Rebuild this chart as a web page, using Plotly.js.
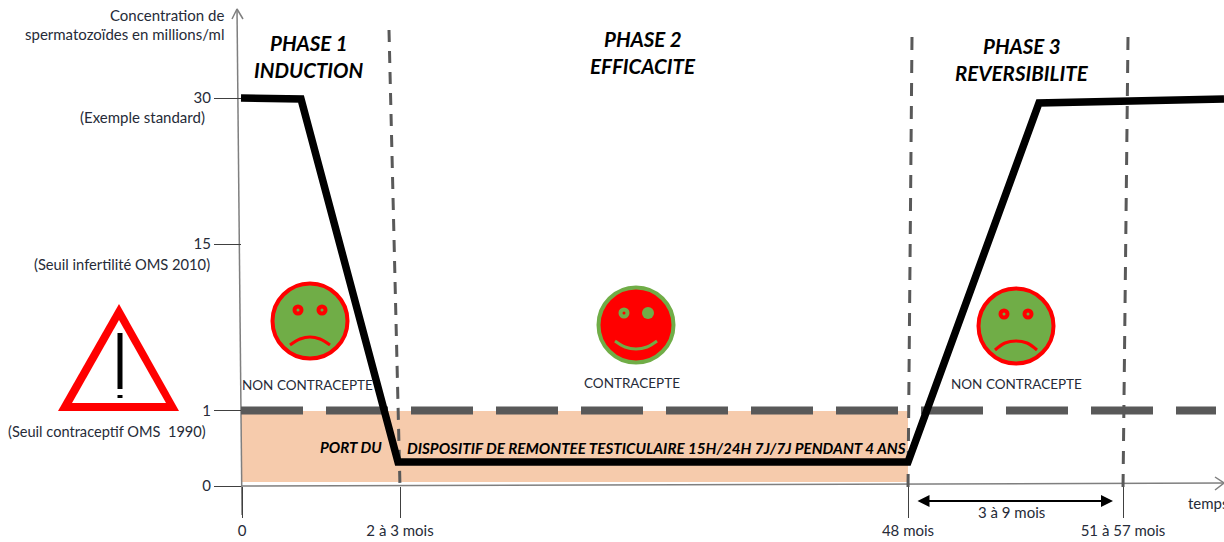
<!DOCTYPE html>
<html>
<head>
<meta charset="utf-8">
<script src="https://cdn.plot.ly/plotly-3.0.1.min.js"></script>
<style>html,body{margin:0;padding:0;background:#fff;overflow:hidden}</style>
</head>
<body>
<div id="chart" style="width:1224px;height:542px"></div>
<script>
// Schematic axes: the source drawing is not to scale, so values are schematic units from the origin.
var xTickVals = [1, 159, 667, 882];
var xTickText = ['0', '2 à 3 mois', '48 mois', '51 à 57 mois'];
var yTickVals = [0, 75.5, 242, 388];
var yTickText = ['0', '1', '15', '30'];

var curveX = [0, 60, 157, 667, 798, 983];
var curveY = [388, 387, 24, 24, 383, 387];

var thresholdX = [0, 975];
var thresholdY = [75.5, 75.5];

var bandX = [0, 667, 667, 0, 0];
var bandY = [75, 75, 4, 4, 75];

var phase1X = [148, 159], phase1Y = [456, -1];
var phase2X = [671, 667], phase2Y = [449, -4];
var phase3X = [887, 882], phase3Y = [449, -4];

var yAxisX = [-4, 1], yAxisY = [477, -29];
var yHeadX = [-9, -4, 2], yHeadY = [467, 477, 467];
var xAxisX = [0, 983], xAxisY = [0, 3];
var xHeadX = [974, 983, 974], xHeadY = [9, 3, -4];

var warnOuterX = [-122, -183, -62, -122], warnOuterY = [182, 75, 75, 182];
var warnInnerX = [-122, -169, -75, -122], warnInnerY = [166, 83, 83, 166];
var warnBarX = [-121, -121], warnBarY = [153, 97];
var warnDotX = [-121, -121], warnDotY = [91, 88];

var sadFaceX = [69, 775], sadFaceY = [165, 160];
var happyFaceX = [395], happyFaceY = [161];
var sadEyeX = [57, 81, 763, 787], sadEyeY = [176, 176, 172, 172];
var happyRingX = [383], happyRingY = [173];
var happySolidX = [407], happySolidY = [173];
var mouth1X = [49, 59, 69, 79, 89], mouth1Y = [141, 147, 149, 147, 141];
var mouth2X = [374, 384, 395, 406, 416], mouth2Y = [145, 139, 137, 139, 145];
var mouth3X = [754, 764, 775, 786, 796], mouth3Y = [136, 143, 145, 143, 136];

var spanX = [675, 872], spanY = [-15, -15];

var noteText = ['Concentration de', 'spermatozoïdes en millions/ml', '(Exemple standard)',
  '(Seuil infertilité OMS 2010)', '(Seuil contraceptif OMS\u00a0 1990)',
  'NON CONTRACEPTE', 'CONTRACEPTE', 'NON CONTRACEPTE', 'temps', '3 à 9 mois'];
var noteX = [-16, -16, -35, -30, -34, 66, 391, 775, 946, 770];
var noteY = [471, 452, 369, 222, 55, 101, 103, 102, -17, -26];
var noteAnchor = ['right', 'right', 'right', 'right', 'right', 'center', 'center', 'center', 'left', 'center'];
var noteSize = [15, 15, 15, 14.7, 14.6, 13.5, 13.5, 13.5, 15, 15];

var titleText = ['PHASE 1', 'INDUCTION', 'PHASE 2', 'EFFICACITE', 'PHASE 3', 'REVERSIBILITE'];
var titleX = [68, 68, 402, 402, 781, 781];
var titleY = [443, 416, 447, 420, 440, 413];

var bandText = ['PORT DU', 'DISPOSITIF DE REMONTEE TESTICULAIRE 15H/24H 7J/7J PENDANT 4 ANS'];
var bandTextX = [110, 415];
var bandTextY = [39, 38];

var GREEN = '#70AD47', RED = '#FF0000', GREY = '#595959', AXIS = '#7F7F7F', INK = '#262b38';
var FONT = 'Lato, "Open Sans", sans-serif';

function line(x, y, color, width, extra) {
  var l = {color: color, width: width};
  if (extra) { for (var k in extra) l[k] = extra[k]; }
  return {x: x, y: y, mode: 'lines', line: l, hoverinfo: 'skip', showlegend: false};
}
function fillPoly(x, y, color) {
  return {x: x, y: y, mode: 'lines', fill: 'toself', fillcolor: color, line: {width: 0, color: color},
    hoverinfo: 'skip', showlegend: false};
}
function dots(x, y, size, color, lineColor, lineWidth) {
  return {x: x, y: y, mode: 'markers',
    marker: {symbol: 'circle', size: size, color: color, line: {color: lineColor, width: lineWidth}},
    hoverinfo: 'skip', showlegend: false};
}

var traces = [
  fillPoly(bandX, bandY, '#F6CBAC'),
  line(xAxisX, xAxisY, AXIS, 1.5),
  line(xHeadX, xHeadY, AXIS, 1.5),
  line(yAxisX, yAxisY, AXIS, 1.5),
  line(yHeadX, yHeadY, AXIS, 1.5),
  line(thresholdX, thresholdY, GREY, 8, {dash: '62px,23px'}),
  line(phase1X, phase1Y, GREY, 3, {dash: '12px,9px'}),
  line(phase2X, phase2Y, GREY, 3, {dash: '13px,10px'}),
  line(phase3X, phase3Y, GREY, 3, {dash: '13px,10px'}),
  line(curveX, curveY, '#000000', 7.5),
  fillPoly(warnOuterX, warnOuterY, RED),
  fillPoly(warnInnerX, warnInnerY, '#FFFFFF'),
  line(warnBarX, warnBarY, '#000000', 5),
  line(warnDotX, warnDotY, '#000000', 5),
  dots(sadFaceX, sadFaceY, 75, GREEN, RED, 4),
  dots(happyFaceX, happyFaceY, 75, RED, GREEN, 4),
  dots(sadEyeX, sadEyeY, 7, GREEN, RED, 4),
  dots(happyRingX, happyRingY, 7, RED, GREEN, 4),
  dots(happySolidX, happySolidY, 12, GREEN, GREEN, 0),
  line(mouth1X, mouth1Y, RED, 3, {shape: 'spline'}),
  line(mouth2X, mouth2Y, GREEN, 3, {shape: 'spline'}),
  line(mouth3X, mouth3Y, RED, 3, {shape: 'spline'})
];

var annotations = [];
noteText.forEach(function (t, i) {
  annotations.push({text: t, x: noteX[i], y: noteY[i], xref: 'x', yref: 'y', showarrow: false,
    xanchor: noteAnchor[i], yanchor: 'middle', borderpad: 0,
    font: {family: FONT, size: noteSize[i], color: INK}});
});
titleText.forEach(function (t, i) {
  annotations.push({text: '<b><i>' + t + '</i></b>', x: titleX[i], y: titleY[i], xref: 'x', yref: 'y',
    showarrow: false, xanchor: 'center', yanchor: 'middle', borderpad: 0,
    font: {family: FONT, size: 20.5, color: '#000000'}});
});
bandText.forEach(function (t, i) {
  annotations.push({text: '<b><i>' + t + '</i></b>', x: bandTextX[i], y: bandTextY[i], xref: 'x', yref: 'y',
    showarrow: false, xanchor: 'center', yanchor: 'middle', borderpad: 0,
    font: {family: FONT, size: 15.2, color: '#000000'}});
});
annotations.push({text: '', x: spanX[1], y: spanY[1], ax: spanX[0], ay: spanY[0], xref: 'x', yref: 'y',
  axref: 'x', ayref: 'y', showarrow: true, arrowside: 'end+start', arrowhead: 2, arrowsize: 1.2,
  arrowwidth: 2, arrowcolor: '#000000', standoff: 0, startstandoff: 0, startarrowhead: 2, startarrowsize: 1.2});

var layout = {
  width: 1224, height: 542, autosize: false,
  margin: {l: 0, r: 0, t: 0, b: 0, pad: 0},
  paper_bgcolor: '#FFFFFF', plot_bgcolor: '#FFFFFF',
  showlegend: false, hovermode: false,
  xaxis: {range: [-241, 983], domain: [0, 1], anchor: 'free', position: 56 / 542,
    showgrid: false, zeroline: false, showline: false, automargin: false, fixedrange: true,
    tickmode: 'array', tickvals: xTickVals, ticktext: xTickText, ticks: 'outside', ticklen: 31,
    tickwidth: 1, tickcolor: '#404040', tickfont: {family: FONT, size: 15, color: INK}},
  yaxis: {range: [-56, 486], domain: [0, 1], anchor: 'free', position: 241 / 1224,
    showgrid: false, zeroline: false, showline: false, automargin: false, fixedrange: true,
    tickmode: 'array', tickvals: yTickVals, ticktext: yTickText, ticks: 'outside', ticklen: 27,
    tickwidth: 1, tickcolor: '#404040', tickfont: {family: FONT, size: 15, color: INK}},
  annotations: annotations
};

Plotly.newPlot('chart', traces, layout, {displayModeBar: false, staticPlot: true, responsive: false});
</script>
</body>
</html>
